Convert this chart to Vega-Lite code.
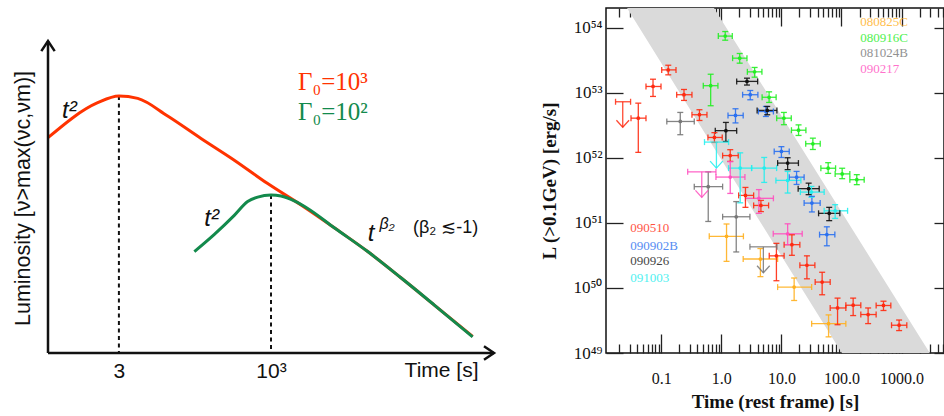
{
  "$schema": "https://vega.github.io/schema/vega-lite/v6.json",
  "background": "white",
  "padding": {"left": 12, "top": 6, "right": 0, "bottom": 0},
  "bounds": "flush",
  "spacing": 112,
  "config": {"view": {"stroke": null}, "axis": {"grid": false}},
  "resolve": {"scale": {"x": "independent", "y": "independent", "color": "independent"}},
  "datasets": {
    "curves": [
      {"case": "Γ₀=10³", "t": 0.2, "v": 62.4},
      {"case": "Γ₀=10³", "t": 1.334, "v": 72.55},
      {"case": "Γ₀=10³", "t": 3, "v": 74.5},
      {"case": "Γ₀=10³", "t": 6.15, "v": 73.8},
      {"case": "Γ₀=10³", "t": 19.3, "v": 68.7},
      {"case": "Γ₀=10³", "t": 69, "v": 62.2},
      {"case": "Γ₀=10³", "t": 246, "v": 55.9},
      {"case": "Γ₀=10³", "t": 881, "v": 49.1},
      {"case": "Γ₀=10³", "t": 3150, "v": 42.9},
      {"case": "Γ₀=10³", "t": 11200, "v": 36.3},
      {"case": "Γ₀=10³", "t": 40200, "v": 29.4},
      {"case": "Γ₀=10³", "t": 143000, "v": 21.8},
      {"case": "Γ₀=10³", "t": 512000, "v": 13.9},
      {"case": "Γ₀=10³", "t": 2210000, "v": 4.8},
      {"case": "Γ₀=10²", "t": 53.5, "v": 29.4},
      {"case": "Γ₀=10²", "t": 115, "v": 34.4},
      {"case": "Γ₀=10²", "t": 246, "v": 39.9},
      {"case": "Γ₀=10²", "t": 410, "v": 43.9},
      {"case": "Γ₀=10²", "t": 601, "v": 45.2},
      {"case": "Γ₀=10²", "t": 1000, "v": 45.8},
      {"case": "Γ₀=10²", "t": 1466, "v": 45.5},
      {"case": "Γ₀=10²", "t": 2432, "v": 44.1},
      {"case": "Γ₀=10²", "t": 4064, "v": 41.9},
      {"case": "Γ₀=10²", "t": 11200, "v": 36.3},
      {"case": "Γ₀=10²", "t": 40200, "v": 29.4},
      {"case": "Γ₀=10²", "t": 143000, "v": 21.8},
      {"case": "Γ₀=10²", "t": 512000, "v": 13.9},
      {"case": "Γ₀=10²", "t": 2210000, "v": 4.7}
    ],
    "band": [
      {"t": 0.0269, "hi": 2e54, "lo": 2e54},
      {"t": 0.753, "hi": 2e54, "lo": 1.43e52},
      {"t": 101.6, "hi": 1.44e51, "lo": 1e49},
      {"t": 2958, "hi": 1e49, "lo": 1e49}
    ],
    "pts": [
      {"grb": "080916C", "t": 1.16, "tlo": 0.89, "thi": 1.52, "L": 7.4e53, "Llo": 6.4e53, "Lhi": 8.7e53},
      {"grb": "080916C", "t": 2.02, "tlo": 1.54, "thi": 2.67, "L": 3.39e53, "Llo": 2.84e53, "Lhi": 4.0e53},
      {"grb": "080916C", "t": 3.58, "tlo": 2.71, "thi": 4.74, "L": 2.09e53, "Llo": 1.73e53, "Lhi": 2.44e53},
      {"grb": "080916C", "t": 0.664, "tlo": 0.5, "thi": 0.877, "L": 1.28e53, "Llo": 6.3e52, "Lhi": 1.92e53},
      {"grb": "080916C", "t": 6.24, "tlo": 4.77, "thi": 8.17, "L": 8.5e52, "Llo": 7.08e52, "Lhi": 1.03e53},
      {"grb": "080916C", "t": 11.0, "tlo": 8.35, "thi": 14.6, "L": 4.06e52, "Llo": 3.22e52, "Lhi": 4.97e52},
      {"grb": "080916C", "t": 19.3, "tlo": 14.7, "thi": 25.6, "L": 2.65e52, "Llo": 2.2e52, "Lhi": 3.2e52},
      {"grb": "080916C", "t": 33.4, "tlo": 25.4, "thi": 44.3, "L": 1.64e52, "Llo": 1.34e52, "Lhi": 2.0e52},
      {"grb": "080916C", "t": 60.1, "tlo": 45.4, "thi": 79.8, "L": 6.9e51, "Llo": 5.75e51, "Lhi": 8.4e51},
      {"grb": "080916C", "t": 102.8, "tlo": 78.5, "thi": 138, "L": 5.65e51, "Llo": 4.77e51, "Lhi": 6.9e51},
      {"grb": "080916C", "t": 180, "tlo": 138, "thi": 239, "L": 4.6e51, "Llo": 3.86e51, "Lhi": 5.5e51},
      {"grb": "090510", "t": 0.1306, "tlo": 0.1016, "thi": 0.1758, "L": 2.24e53, "Llo": 1.88e53, "Lhi": 2.64e53},
      {"grb": "090510", "t": 0.0728, "tlo": 0.0556, "thi": 0.0989, "L": 1.245e53, "Llo": 8.75e52, "Lhi": 1.61e53},
      {"grb": "090510", "t": 0.2387, "tlo": 0.1804, "thi": 0.324, "L": 9.3e52, "Llo": 7.6e52, "Lhi": 1.12e53},
      {"grb": "090510", "t": 0.432, "tlo": 0.324, "thi": 0.576, "L": 4.58e52, "Llo": 3.74e52, "Lhi": 5.47e52},
      {"grb": "090510", "t": 0.0414, "tlo": 0.0313, "thi": 0.0556, "L": 4.06e52, "Llo": 1.21e52, "Lhi": 6.9e52},
      {"grb": "090510", "t": 0.767, "tlo": 0.598, "thi": 1.035, "L": 2.05e52, "Llo": 1.72e52, "Lhi": 2.43e52},
      {"grb": "090510", "t": 1.406, "tlo": 1.05, "thi": 1.91, "L": 1.08e52, "Llo": 8.8e51, "Lhi": 1.33e52},
      {"grb": "090510", "t": 2.52, "tlo": 1.94, "thi": 3.45, "L": 2.64e51, "Llo": 1.73e51, "Lhi": 3.5e51},
      {"grb": "090510", "t": 4.56, "tlo": 3.45, "thi": 6.12, "L": 1.85e51, "Llo": 1.49e51, "Lhi": 2.21e51},
      {"grb": "090510", "t": 14.96, "tlo": 11.1, "thi": 20.3, "L": 4.62e50, "Llo": 3.17e50, "Lhi": 6.55e50},
      {"grb": "090510", "t": 8.26, "tlo": 6.27, "thi": 11.1, "L": 3.11e50, "Llo": 1.29e50, "Lhi": 4.84e50},
      {"grb": "090510", "t": 26.6, "tlo": 20.3, "thi": 36.1, "L": 2.23e50, "Llo": 1.38e50, "Lhi": 3.11e50},
      {"grb": "090510", "t": 47.7, "tlo": 36.5, "thi": 64.9, "L": 1.23e50, "Llo": 7.85e49, "Lhi": 1.74e50},
      {"grb": "090510", "t": 86.1, "tlo": 64.9, "thi": 118.3, "L": 4.92e49, "Llo": 2.72e49, "Lhi": 6.97e49},
      {"grb": "090510", "t": 156.6, "tlo": 118.3, "thi": 210, "L": 5.42e49, "Llo": 3.76e49, "Lhi": 6.97e49},
      {"grb": "090510", "t": 278, "tlo": 210, "thi": 378, "L": 3.9e49, "Llo": 2.83e49, "Lhi": 4.92e49},
      {"grb": "090510", "t": 501, "tlo": 378, "thi": 664, "L": 5.37e49, "Llo": 4.5e49, "Lhi": 6.25e49},
      {"grb": "090510", "t": 912, "tlo": 682, "thi": 1225, "L": 2.67e49, "Llo": 2.21e49, "Lhi": 3.21e49},
      {"grb": "090902B", "t": 3.03, "tlo": 2.26, "thi": 4.06, "L": 9.3e52, "Llo": 7.78e52, "Lhi": 1.08e53},
      {"grb": "090902B", "t": 1.72, "tlo": 1.29, "thi": 2.31, "L": 4.47e52, "Llo": 3.43e52, "Lhi": 5.66e52},
      {"grb": "090902B", "t": 5.52, "tlo": 4.14, "thi": 7.36, "L": 5.14e52, "Llo": 4.31e52, "Lhi": 6.14e52},
      {"grb": "090902B", "t": 10.0, "tlo": 7.59, "thi": 13.5, "L": 1.25e52, "Llo": 1.01e52, "Lhi": 1.48e52},
      {"grb": "090902B", "t": 17.9, "tlo": 13.5, "thi": 23.9, "L": 5.03e51, "Llo": 3.89e51, "Lhi": 6.17e51},
      {"grb": "090902B", "t": 32.2, "tlo": 23.9, "thi": 44.2, "L": 2.01e51, "Llo": 1.47e51, "Lhi": 2.55e51},
      {"grb": "090902B", "t": 57.1, "tlo": 43.2, "thi": 77.6, "L": 6.59e50, "Llo": 4.44e50, "Lhi": 8.69e50},
      {"grb": "090926", "t": 2.67, "tlo": 1.8, "thi": 4.02, "L": 1.49e53, "Llo": 1.31e53, "Lhi": 1.67e53},
      {"grb": "090926", "t": 5.81, "tlo": 3.94, "thi": 8.42, "L": 5.34e52, "Llo": 4.58e52, "Lhi": 6.14e52},
      {"grb": "090926", "t": 1.19, "tlo": 0.792, "thi": 1.8, "L": 2.61e52, "Llo": 1.78e52, "Lhi": 3.49e52},
      {"grb": "090926", "t": 12.7, "tlo": 8.65, "thi": 19.2, "L": 8.28e51, "Llo": 6.56e51, "Lhi": 1.0e52},
      {"grb": "090926", "t": 28.4, "tlo": 19.0, "thi": 42.6, "L": 3.35e51, "Llo": 2.71e51, "Lhi": 4.07e51},
      {"grb": "090926", "t": 62.5, "tlo": 41.6, "thi": 94.0, "L": 1.4e51, "Llo": 1.08e51, "Lhi": 1.73e51},
      {"grb": "081024B", "t": 0.207, "tlo": 0.1235, "thi": 0.354, "L": 3.61e52, "Llo": 2.26e52, "Lhi": 4.97e52},
      {"grb": "081024B", "t": 0.605, "tlo": 0.354, "thi": 1.05, "L": 3.6e51, "Llo": 1.05e51, "Lhi": 6.07e51},
      {"grb": "081024B", "t": 1.77, "tlo": 1.05, "thi": 2.99, "L": 1.24e51, "Llo": 3.57e50, "Lhi": 2.12e51},
      {"grb": "090217", "t": 1.406, "tlo": 0.813, "thi": 2.47, "L": 5.05e51, "Llo": 2.83e51, "Lhi": 8.7e51},
      {"grb": "090217", "t": 4.22, "tlo": 2.52, "thi": 7.36, "L": 2.38e51, "Llo": 1.4e51, "Lhi": 3.24e51},
      {"grb": "090217", "t": 12.7, "tlo": 7.31, "thi": 22.2, "L": 6.78e50, "Llo": 4.62e50, "Lhi": 9.66e50},
      {"grb": "091003", "t": 2.06, "tlo": 1.32, "thi": 3.19, "L": 6.93e51, "Llo": 2.03e51, "Lhi": 1.19e52},
      {"grb": "091003", "t": 5.17, "tlo": 3.19, "thi": 8.32, "L": 6.93e51, "Llo": 4.18e51, "Lhi": 1.01e52},
      {"grb": "091003", "t": 12.7, "tlo": 8.1, "thi": 21.1, "L": 4.49e51, "Llo": 2.87e51, "Lhi": 6.17e51},
      {"grb": "091003", "t": 31.6, "tlo": 20.7, "thi": 51.5, "L": 2.97e51, "Llo": 2.47e51, "Lhi": 3.63e51},
      {"grb": "091003", "t": 78.5, "tlo": 51.5, "thi": 126.5, "L": 1.53e51, "Llo": 1.17e51, "Lhi": 1.9e51},
      {"grb": "080825C", "t": 1.22, "tlo": 0.629, "thi": 2.33, "L": 6.21e50, "Llo": 2.56e50, "Lhi": 9.6e50},
      {"grb": "080825C", "t": 4.47, "tlo": 2.31, "thi": 8.65, "L": 2.78e50, "Llo": 1.49e50, "Lhi": 4.03e50},
      {"grb": "080825C", "t": 16.3, "tlo": 8.65, "thi": 31.9, "L": 1.03e50, "Llo": 6.41e49, "Lhi": 1.42e50},
      {"grb": "080825C", "t": 61.0, "tlo": 31.9, "thi": 118.3, "L": 2.82e49, "Llo": 1.77e49, "Lhi": 3.85e49}
    ],
    "ul": [
      {"grb": "090510", "t": 0.0228, "tlo": 0.0173, "thi": 0.0308, "L": 7.25e52, "Ltip": 2.95e52},
      {"grb": "091003", "t": 0.828, "tlo": 0.524, "thi": 1.32, "L": 1.74e52, "Ltip": 6.93e51},
      {"grb": "090217", "t": 0.472, "tlo": 0.275, "thi": 0.813, "L": 6.07e51, "Ltip": 2.46e51},
      {"grb": "081024B", "t": 5.01, "tlo": 2.99, "thi": 8.42, "L": 4.28e50, "Ltip": 1.71e50}
    ],
    "legend": [
      {"grb": "080825C", "t": 205, "L": 1.2e54},
      {"grb": "080916C", "t": 205, "L": 6.87e53},
      {"grb": "081024B", "t": 205, "L": 4.04e53},
      {"grb": "090217", "t": 205, "L": 2.35e53},
      {"grb": "090510", "t": 0.0305, "L": 8.32e50},
      {"grb": "090902B", "t": 0.0305, "L": 4.48e50},
      {"grb": "090926", "t": 0.0305, "L": 2.57e50},
      {"grb": "091003", "t": 0.0305, "L": 1.41e50}
    ]
  },
  "hconcat": [
    {
      "width": 446,
      "height": 345,
      "resolve": {"axis": {"x": "independent", "y": "independent"}},
      "layer": [
        {
          "data": {"values": [{"t": 3, "v": 74.5}, {"t": 1000, "v": 45.8}]},
          "mark": {"type": "rule", "strokeDash": [4, 3.5], "strokeWidth": 2, "color": "#111"},
          "encoding": {
            "x": {"field": "t", "type": "quantitative", "scale": {"type": "log", "domain": [0.2, 5000000], "nice": false},
              "axis": {"values": [3, 1000], "labelExpr": "datum.value == 3 ? '3' : '10³'", "ticks": false, "domain": false, "grid": false,
                "labelFont": "Liberation Sans", "labelFontSize": 21, "labelColor": "#111", "labelPadding": 7, "labelOverlap": false, "labelFlush": false,
                "title": "Time [s]", "titleFont": "Liberation Sans", "titleFontSize": 21, "titleFontWeight": "normal", "titleColor": "#111",
                "titleX": 430, "titleY": 17, "titleAlign": "right", "titleBaseline": "middle"}},
            "y": {"field": "v", "type": "quantitative", "scale": {"domain": [0, 100], "nice": false, "zero": false},
              "axis": {"labels": false, "ticks": false, "domain": false, "grid": false,
                "title": "Luminosity  [ν>max(νc,νm)]", "titleFont": "Liberation Sans", "titleFontSize": 21.5, "titleFontWeight": "normal",
                "titleColor": "#111", "titlePadding": 14, "titleY": 190}},
            "y2": {"datum": 0}
          }
        },
        {
          "data": {"name": "curves"},
          "transform": [{"filter": "datum.case == 'Γ₀=10³'"}],
          "mark": {"type": "line", "strokeWidth": 3, "interpolate": "monotone"},
          "encoding": {
            "x": {"field": "t", "type": "quantitative", "scale": {"type": "log", "domain": [0.2, 5000000], "nice": false}, "axis": null},
            "y": {"field": "v", "type": "quantitative", "scale": {"domain": [0, 100], "nice": false, "zero": false}, "axis": null},
            "color": {"field": "case", "type": "nominal", "scale": {"domain": ["Γ₀=10³", "Γ₀=10²"], "range": ["#ff3300", "#138a4c"]}, "legend": null}
          }
        },
        {
          "data": {"name": "curves"},
          "transform": [{"filter": "datum.case == 'Γ₀=10²'"}],
          "mark": {"type": "line", "strokeWidth": 3, "interpolate": "monotone"},
          "encoding": {
            "x": {"field": "t", "type": "quantitative", "scale": {"type": "log", "domain": [0.2, 5000000], "nice": false}, "axis": null},
            "y": {"field": "v", "type": "quantitative", "scale": {"domain": [0, 100], "nice": false, "zero": false}, "axis": null},
            "color": {"field": "case", "type": "nominal", "scale": {"domain": ["Γ₀=10³", "Γ₀=10²"], "range": ["#ff3300", "#138a4c"]}, "legend": null}
          }
        },
        {
          "data": {"values": [{"t": 0.2, "t2": 5000000, "v": 0, "v2": 0}, {"t": 0.2, "t2": 0.2, "v": 0, "v2": 90.4}]},
          "mark": {"type": "rule", "strokeWidth": 2.5, "color": "#111"},
          "encoding": {
            "x": {"field": "t", "type": "quantitative", "scale": {"type": "log", "domain": [0.2, 5000000], "nice": false}, "axis": null},
            "x2": {"field": "t2"},
            "y": {"field": "v", "type": "quantitative", "scale": {"domain": [0, 100], "nice": false, "zero": false}, "axis": null},
            "y2": {"field": "v2"}
          }
        },
        {
          "data": {"values": [{"t": 0.2, "v": 90.4}]},
          "mark": {"type": "point", "shape": "M-0.67,1L0,0L0.67,1", "size": 400, "filled": false, "strokeWidth": 2.5, "color": "#111", "opacity": 1},
          "encoding": {
            "x": {"field": "t", "type": "quantitative", "scale": {"type": "log", "domain": [0.2, 5000000], "nice": false}, "axis": null},
            "y": {"field": "v", "type": "quantitative", "scale": {"domain": [0, 100], "nice": false, "zero": false}, "axis": null}
          }
        },
        {
          "data": {"values": [{"t": 5000000, "v": 0}]},
          "mark": {"type": "point", "shape": "M-1,-0.67L0,0L-1,0.67", "size": 400, "filled": false, "strokeWidth": 2.5, "color": "#111", "opacity": 1},
          "encoding": {
            "x": {"field": "t", "type": "quantitative", "scale": {"type": "log", "domain": [0.2, 5000000], "nice": false}, "axis": null},
            "y": {"field": "v", "type": "quantitative", "scale": {"domain": [0, 100], "nice": false, "zero": false}, "axis": null}
          }
        },
        {
          "data": {"values": [{"case": "Γ₀=10³", "t": 2806, "v": 76.1}, {"case": "Γ₀=10²", "t": 2806, "v": 67.4}]},
          "mark": {"type": "text", "align": "left", "baseline": "alphabetic", "font": "Liberation Serif", "fontSize": 25},
          "encoding": {
            "x": {"field": "t", "type": "quantitative", "scale": {"type": "log", "domain": [0.2, 5000000], "nice": false}, "axis": null},
            "y": {"field": "v", "type": "quantitative", "scale": {"domain": [0, 100], "nice": false, "zero": false}, "axis": null},
            "text": {"field": "case"},
            "color": {"field": "case", "type": "nominal", "scale": {"domain": ["Γ₀=10³", "Γ₀=10²"], "range": ["#ff3300", "#138a4c"]}, "legend": null}
          }
        },
        {
          "data": {"values": [{"t": 0.341, "v": 68.2, "label": "t²"}, {"t": 78.4, "v": 36.8, "label": "t²"}, {"t": 40200, "v": 32.5, "label": "t"}]},
          "mark": {"type": "text", "align": "left", "baseline": "alphabetic", "font": "Liberation Sans", "fontSize": 24, "fontStyle": "italic", "color": "#111"},
          "encoding": {
            "x": {"field": "t", "type": "quantitative", "scale": {"type": "log", "domain": [0.2, 5000000], "nice": false}, "axis": null},
            "y": {"field": "v", "type": "quantitative", "scale": {"domain": [0, 100], "nice": false, "zero": false}, "axis": null},
            "text": {"field": "label"}
          }
        },
        {
          "data": {"values": [{"t": 63000, "v": 35.9, "label": "β₂"}]},
          "mark": {"type": "text", "align": "left", "baseline": "alphabetic", "font": "Liberation Sans", "fontSize": 16, "fontStyle": "italic", "color": "#111"},
          "encoding": {
            "x": {"field": "t", "type": "quantitative", "scale": {"type": "log", "domain": [0.2, 5000000], "nice": false}, "axis": null},
            "y": {"field": "v", "type": "quantitative", "scale": {"domain": [0, 100], "nice": false, "zero": false}, "axis": null},
            "text": {"field": "label"}
          }
        },
        {
          "data": {"values": [{"t": 226000, "v": 34.8, "label": "(β₂ ≲-1)"}]},
          "mark": {"type": "text", "align": "left", "baseline": "alphabetic", "font": "Liberation Sans", "fontSize": 18, "color": "#111"},
          "encoding": {
            "x": {"field": "t", "type": "quantitative", "scale": {"type": "log", "domain": [0.2, 5000000], "nice": false}, "axis": null},
            "y": {"field": "v", "type": "quantitative", "scale": {"domain": [0, 100], "nice": false, "zero": false}, "axis": null},
            "text": {"field": "label"}
          }
        }
      ]
    },
    {
      "width": 338,
      "height": 345,
      "view": {"stroke": "#111", "strokeWidth": 1.5},
      "resolve": {"axis": {"x": "independent", "y": "independent"}},
      "layer": [
        {
          "data": {"name": "band"},
          "mark": {"type": "area", "color": "#dadada"},
          "encoding": {
            "x": {"field": "t", "type": "quantitative", "scale": {"type": "log", "domain": [0.012, 5100], "nice": false},
              "axis": {"orient": "bottom", "values": [0.02, 0.03, 0.04, 0.05, 0.06, 0.07, 0.08, 0.09, 0.1, 0.2, 0.3, 0.4, 0.5, 0.6, 0.7, 0.8, 0.9, 1, 2, 3, 4, 5, 6, 7, 8, 9, 10, 20, 30, 40, 50, 60, 70, 80, 90, 100, 200, 300, 400, 500, 600, 700, 800, 900, 1000, 2000, 3000, 4000, 5000],
                "tickSize": {"condition": {"test": "indexof([0.1, 1, 10, 100, 1000], datum.value) >= 0", "value": -19}, "value": -9},
                "tickColor": "#222", "tickWidth": 1.3,
                "labelExpr": "indexof([0.1, 1, 10, 100, 1000], datum.value) >= 0 ? format(datum.value, '.1f') : ''",
                "labelPadding": {"condition": {"test": "indexof([0.1, 1, 10, 100, 1000], datum.value) >= 0", "value": 36}, "value": 26},
                "labelFont": "Liberation Serif", "labelFontSize": 16, "labelColor": "#111", "labelOverlap": false, "labelFlush": false,
                "domain": false, "grid": false,
                "title": "Time (rest frame)  [s]", "titleFont": "Liberation Serif", "titleFontSize": 19, "titleFontWeight": "bold", "titleColor": "#111", "titlePadding": 6}},
            "y": {"field": "hi", "type": "quantitative", "scale": {"type": "log", "domain": [1e49, 2e54], "nice": false},
              "axis": {"orient": "left", "values": [1e49, 1e50, 1e51, 1e52, 1e53, 1e54], "tickSize": -17, "tickColor": "#222", "tickWidth": 1.3,
                "labelExpr": "['10⁴⁹', '10⁵⁰', '10⁵¹', '10⁵²', '10⁵³', '10⁵⁴'][round(log(datum.value) / LN10) - 49]",
                "labelPadding": 21, "labelFont": "Liberation Serif", "labelFontSize": 17, "labelColor": "#111", "labelBaseline": "middle", "labelOverlap": false,
                "domain": false, "grid": false,
                "title": "L (>0.1GeV)  [erg/s]", "titleFont": "Liberation Serif", "titleFontSize": 19, "titleFontWeight": "bold", "titleColor": "#111", "titlePadding": 14}},
            "y2": {"field": "lo"}
          }
        },
        {
          "data": {"name": "pts"},
          "mark": {"type": "rule", "strokeWidth": 1.3, "opacity": 0.9},
          "encoding": {
            "x": {"field": "tlo", "type": "quantitative", "scale": {"type": "log", "domain": [0.012, 5100], "nice": false},
              "axis": {"orient": "top", "values": [0.02, 0.03, 0.04, 0.05, 0.06, 0.07, 0.08, 0.09, 0.1, 0.2, 0.3, 0.4, 0.5, 0.6, 0.7, 0.8, 0.9, 1, 2, 3, 4, 5, 6, 7, 8, 9, 10, 20, 30, 40, 50, 60, 70, 80, 90, 100, 200, 300, 400, 500, 600, 700, 800, 900, 1000, 2000, 3000, 4000, 5000],
                "tickSize": {"condition": {"test": "indexof([0.1, 1, 10, 100, 1000], datum.value) >= 0", "value": -18}, "value": -9},
                "tickColor": "#222", "tickWidth": 1.3, "labels": false, "domain": false, "grid": false, "title": null}},
            "x2": {"field": "thi"},
            "y": {"field": "L", "type": "quantitative", "scale": {"type": "log", "domain": [1e49, 2e54], "nice": false},
              "axis": {"orient": "right", "values": [1e49, 1e50, 1e51, 1e52, 1e53, 1e54], "tickSize": -10, "tickColor": "#222", "tickWidth": 1.3, "labels": false, "domain": false, "grid": false, "title": null}},
            "color": {"field": "grb", "type": "nominal", "scale": {"domain": ["080825C", "080916C", "081024B", "090217", "090510", "090902B", "090926", "091003"], "range": ["#ffb020", "#22ee22", "#777777", "#ff4fbf", "#ff2a10", "#2a70f0", "#111111", "#22eeee"]}, "legend": null}
          }
        },
        {
          "data": {"name": "pts"},
          "mark": {"type": "tick", "orient": "vertical", "size": 6, "thickness": 1.3, "opacity": 0.9},
          "encoding": {
            "x": {"field": "tlo", "type": "quantitative", "scale": {"type": "log", "domain": [0.012, 5100], "nice": false}, "axis": null},
            "y": {"field": "L", "type": "quantitative", "scale": {"type": "log", "domain": [1e49, 2e54], "nice": false}, "axis": null},
            "color": {"field": "grb", "type": "nominal", "legend": null}
          }
        },
        {
          "data": {"name": "pts"},
          "mark": {"type": "tick", "orient": "vertical", "size": 6, "thickness": 1.3, "opacity": 0.9},
          "encoding": {
            "x": {"field": "thi", "type": "quantitative", "scale": {"type": "log", "domain": [0.012, 5100], "nice": false}, "axis": null},
            "y": {"field": "L", "type": "quantitative", "scale": {"type": "log", "domain": [1e49, 2e54], "nice": false}, "axis": null},
            "color": {"field": "grb", "type": "nominal", "legend": null}
          }
        },
        {
          "data": {"name": "pts"},
          "mark": {"type": "rule", "strokeWidth": 1.3, "opacity": 0.9},
          "encoding": {
            "x": {"field": "t", "type": "quantitative", "scale": {"type": "log", "domain": [0.012, 5100], "nice": false}, "axis": null},
            "y": {"field": "Llo", "type": "quantitative", "scale": {"type": "log", "domain": [1e49, 2e54], "nice": false}, "axis": null},
            "y2": {"field": "Lhi"},
            "color": {"field": "grb", "type": "nominal", "legend": null}
          }
        },
        {
          "data": {"name": "pts"},
          "mark": {"type": "tick", "orient": "horizontal", "size": 6, "thickness": 1.3, "opacity": 0.9},
          "encoding": {
            "x": {"field": "t", "type": "quantitative", "scale": {"type": "log", "domain": [0.012, 5100], "nice": false}, "axis": null},
            "y": {"field": "Llo", "type": "quantitative", "scale": {"type": "log", "domain": [1e49, 2e54], "nice": false}, "axis": null},
            "color": {"field": "grb", "type": "nominal", "legend": null}
          }
        },
        {
          "data": {"name": "pts"},
          "mark": {"type": "tick", "orient": "horizontal", "size": 6, "thickness": 1.3, "opacity": 0.9},
          "encoding": {
            "x": {"field": "t", "type": "quantitative", "scale": {"type": "log", "domain": [0.012, 5100], "nice": false}, "axis": null},
            "y": {"field": "Lhi", "type": "quantitative", "scale": {"type": "log", "domain": [1e49, 2e54], "nice": false}, "axis": null},
            "color": {"field": "grb", "type": "nominal", "legend": null}
          }
        },
        {
          "data": {"name": "pts"},
          "mark": {"type": "point", "filled": true, "size": 14, "opacity": 1},
          "encoding": {
            "x": {"field": "t", "type": "quantitative", "scale": {"type": "log", "domain": [0.012, 5100], "nice": false}, "axis": null},
            "y": {"field": "L", "type": "quantitative", "scale": {"type": "log", "domain": [1e49, 2e54], "nice": false}, "axis": null},
            "color": {"field": "grb", "type": "nominal", "legend": null}
          }
        },
        {
          "data": {"name": "ul"},
          "mark": {"type": "rule", "strokeWidth": 1.3, "opacity": 0.85},
          "encoding": {
            "x": {"field": "tlo", "type": "quantitative", "scale": {"type": "log", "domain": [0.012, 5100], "nice": false}, "axis": null},
            "x2": {"field": "thi"},
            "y": {"field": "L", "type": "quantitative", "scale": {"type": "log", "domain": [1e49, 2e54], "nice": false}, "axis": null},
            "color": {"field": "grb", "type": "nominal", "legend": null}
          }
        },
        {
          "data": {"name": "ul"},
          "mark": {"type": "tick", "orient": "vertical", "size": 6, "thickness": 1.3, "opacity": 0.85},
          "encoding": {
            "x": {"field": "tlo", "type": "quantitative", "scale": {"type": "log", "domain": [0.012, 5100], "nice": false}, "axis": null},
            "y": {"field": "L", "type": "quantitative", "scale": {"type": "log", "domain": [1e49, 2e54], "nice": false}, "axis": null},
            "color": {"field": "grb", "type": "nominal", "legend": null}
          }
        },
        {
          "data": {"name": "ul"},
          "mark": {"type": "tick", "orient": "vertical", "size": 6, "thickness": 1.3, "opacity": 0.85},
          "encoding": {
            "x": {"field": "thi", "type": "quantitative", "scale": {"type": "log", "domain": [0.012, 5100], "nice": false}, "axis": null},
            "y": {"field": "L", "type": "quantitative", "scale": {"type": "log", "domain": [1e49, 2e54], "nice": false}, "axis": null},
            "color": {"field": "grb", "type": "nominal", "legend": null}
          }
        },
        {
          "data": {"name": "ul"},
          "mark": {"type": "rule", "strokeWidth": 1.3, "opacity": 0.85},
          "encoding": {
            "x": {"field": "t", "type": "quantitative", "scale": {"type": "log", "domain": [0.012, 5100], "nice": false}, "axis": null},
            "y": {"field": "Ltip", "type": "quantitative", "scale": {"type": "log", "domain": [1e49, 2e54], "nice": false}, "axis": null},
            "y2": {"field": "L"},
            "color": {"field": "grb", "type": "nominal", "legend": null}
          }
        },
        {
          "data": {"name": "ul"},
          "mark": {"type": "point", "shape": "M-1,-1.1L0,0L1,-1.1", "size": 160, "filled": false, "strokeWidth": 1.3, "opacity": 0.85},
          "encoding": {
            "x": {"field": "t", "type": "quantitative", "scale": {"type": "log", "domain": [0.012, 5100], "nice": false}, "axis": null},
            "y": {"field": "Ltip", "type": "quantitative", "scale": {"type": "log", "domain": [1e49, 2e54], "nice": false}, "axis": null},
            "color": {"field": "grb", "type": "nominal", "legend": null}
          }
        },
        {
          "data": {"name": "legend"},
          "mark": {"type": "text", "align": "left", "baseline": "middle", "font": "Liberation Serif", "fontSize": 13, "opacity": 0.8},
          "encoding": {
            "x": {"field": "t", "type": "quantitative", "scale": {"type": "log", "domain": [0.012, 5100], "nice": false}, "axis": null},
            "y": {"field": "L", "type": "quantitative", "scale": {"type": "log", "domain": [1e49, 2e54], "nice": false}, "axis": null},
            "text": {"field": "grb"},
            "color": {"field": "grb", "type": "nominal", "legend": null}
          }
        }
      ]
    }
  ]
}
